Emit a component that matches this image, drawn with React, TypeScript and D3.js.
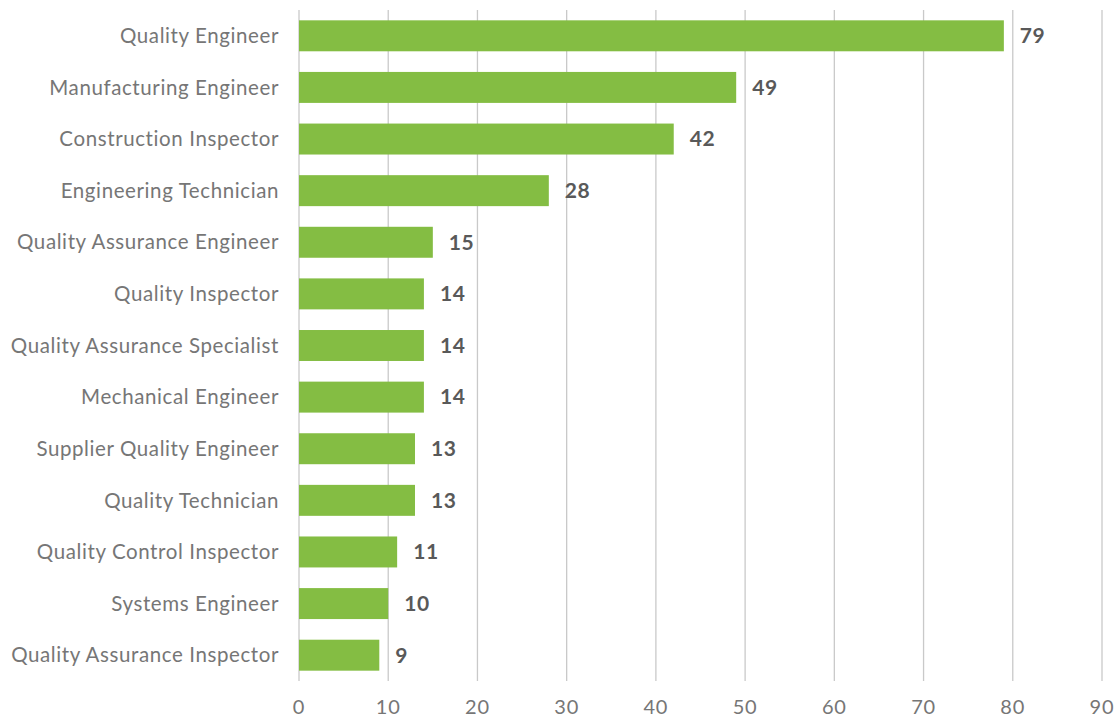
import React from "react";
import * as d3 from "d3";

const categories = [
  "Quality Engineer",
  "Manufacturing Engineer",
  "Construction Inspector",
  "Engineering Technician",
  "Quality Assurance Engineer",
  "Quality Inspector",
  "Quality Assurance Specialist",
  "Mechanical Engineer",
  "Supplier Quality Engineer",
  "Quality Technician",
  "Quality Control Inspector",
  "Systems Engineer",
  "Quality Assurance Inspector",
];
const values = [79, 49, 42, 28, 15, 14, 14, 14, 13, 13, 11, 10, 9];
const xTicks = [0, 10, 20, 30, 40, 50, 60, 70, 80, 90];

const W = 1118;
const H = 717;
const FONT = "Lato, 'DejaVu Sans', sans-serif";

export default function App() {
  const x = d3.scaleLinear().domain([0, 90]).range([299, 1102]);
  const y = d3
    .scaleBand<string>()
    .domain(categories)
    .range([10, 681])
    .paddingInner(0.4)
    .paddingOuter(0.2);
  return (
    <svg
      width={W}
      height={H}
      style={{ position: "absolute", left: 0, top: 0, background: "#fff" }}
    >
      {xTicks.map((t) => (
        <g key={t}>
          <line
            x1={x(t)}
            x2={x(t)}
            y1={10}
            y2={681}
            stroke="#c9c9c9"
            strokeWidth={1.3}
          />
          <text
            x={x(t)}
            y={714}
            textAnchor="middle"
            fontFamily={FONT}
            fontSize={20}
            letterSpacing={0.8}
            fill="#767676"
          >
            {t}
          </text>
        </g>
      ))}
      {categories.map((c, i) => {
        const yy = y(c)!;
        const bh = y.bandwidth();
        return (
          <g key={c}>
            <rect
              x={x(0)}
              y={yy}
              width={x(values[i]) - x(0)}
              height={bh}
              fill="#84bd43"
            />
            <text
              x={279}
              y={yy + bh / 2}
              dy="0.35em"
              textAnchor="end"
              fontFamily={FONT}
              fontSize={20.5}
              letterSpacing={0.6}
              fill="#767676"
            >
              {c}
            </text>
            <text
              x={x(values[i]) + 16}
              y={yy + bh / 2}
              dy="0.35em"
              textAnchor="start"
              fontFamily={FONT}
              fontSize={21}
              fontWeight="bold"
              letterSpacing={0.6}
              fill="#595959"
            >
              {values[i]}
            </text>
          </g>
        );
      })}
    </svg>
  );
}
